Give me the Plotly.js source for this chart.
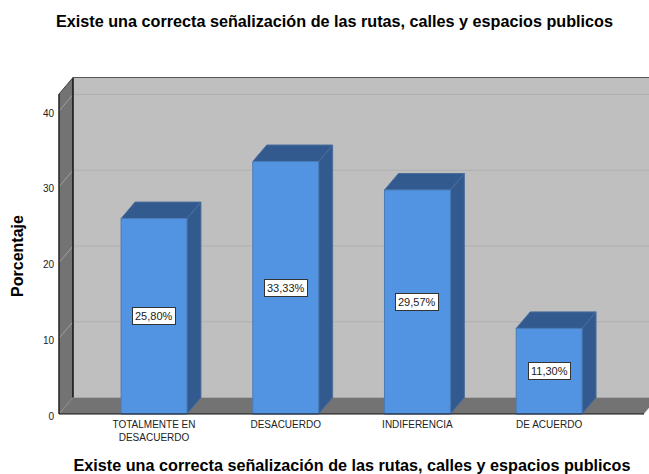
<!DOCTYPE html>
<html>
<head>
<meta charset="utf-8">
<script src="https://cdn.plot.ly/plotly-3.0.1.min.js"></script>
<style>html,body{margin:0;padding:0;background:#fff;overflow:hidden}</style>
</head>
<body>
<div id="chart" style="width:649px;height:474px"></div>
<script>
const categories = ["TOTALMENTE EN<br>DESACUERDO", "DESACUERDO", "INDIFERENCIA", "DE ACUERDO"];
const percentages = [25.80, 33.33, 29.57, 11.30];
const valueLabels = ["25,80%", "33,33%", "29,57%", "11,30%"];
const yTicks = [0, 10, 20, 30, 40];
const chartTitle = "Existe una correcta señalización de las rutas, calles y espacios publicos";
const yTitle = "Porcentaje";

const FONT = "Liberation Sans, Arial, sans-serif";
const BAR_W = 0.5, DX = 0.1063, DY = 2.18;
const XL = -0.7213, XR = 3.7213, YTOP = 42.24;

function poly(pts, fill, line, lw, layer) {
  return {type: "path", xref: "x", yref: "y", layer: layer || "below",
    path: "M" + pts.map(p => p[0] + "," + p[1]).join("L") + "Z",
    fillcolor: fill, line: {color: line, width: lw === undefined ? 1 : lw}};
}
function seg(x0, y0, x1, y1, color, w, layer) {
  return {type: "line", xref: "x", yref: "y", layer: layer || "below",
    x0, y0, x1, y1, line: {color, width: w}};
}

const shapes = [
  poly([[XL+DX,DY],[XR+DX,DY],[XR+DX,YTOP+DY],[XL+DX,YTOP+DY]], "#bfbfbf", "#bfbfbf", 0),
  poly([[XL,0],[XL+DX,DY],[XL+DX,YTOP+DY],[XL,YTOP]], "#737373", "#737373", 0),
  poly([[XL,0],[XR,0],[XR+DX,DY],[XL+DX,DY]], "#737373", "#737373", 0)
];
yTicks.slice(1).forEach(v => {
  shapes.push(seg(XL+DX, v+DY, XR+DX, v+DY, "#b0b0b0", 1));
  shapes.push(seg(XL, v, XL+DX, v+DY, "#a0a0a0", 1));
});
shapes.push(seg(XL, 0, XL+DX, DY, "#8c8c8c", 1));
shapes.push(seg(XR, 0, XR+DX, DY, "#e8e8e8", 1));
shapes.push(seg(XL+DX, DY, XL+DX, YTOP+DY, "#111111", 1.5));
shapes.push(seg(XL+DX, YTOP+DY, XR+DX, YTOP+DY, "#555555", 1));
shapes.push(seg(XL, YTOP, XL+DX, YTOP+DY, "#444444", 1));
shapes.push(seg(XL, 0, XL, YTOP, "#222222", 1.5));
percentages.forEach((v, i) => {
  const l = i - BAR_W/2, r = i + BAR_W/2;
  shapes.push(poly([[r,0],[r+DX,DY],[r+DX,v+DY],[r,v]], "#335a8f", "#4a6d9c", 1));
  shapes.push(poly([[l,v],[r,v],[r+DX,v+DY],[l+DX,v+DY]], "#335a8f", "#4a6d9c", 1));
});
shapes.push(seg(XL, 0, XR, 0, "#111111", 1.2, "above"));

const annotations = percentages.map((v, i) => ({
  x: i, y: v/2, xref: "x", yref: "y", text: valueLabels[i], showarrow: false,
  bgcolor: "#ffffff", bordercolor: "#333333", borderwidth: 1, borderpad: 2,
  font: {family: FONT, size: 11, color: "#222222"}
}));

const trace = {
  type: "bar", x: categories, y: percentages, width: BAR_W,
  marker: {color: "#5294e2", line: {color: "#4a7db8", width: 1}},
  hoverinfo: "skip"
};

const layout = {
  width: 649, height: 474, autosize: false,
  margin: {l: 55, r: 0, t: 76, b: 38, pad: 0},
  paper_bgcolor: "#ffffff", plot_bgcolor: "#ffffff",
  showlegend: false,
  title: {text: chartTitle, x: 334.5/649, xanchor: "center", y: 1-21/474, yanchor: "middle",
    font: {family: FONT, size: 16.2, color: "#000000", weight: "bold"}},
  xaxis: {
    type: "category", range: [-0.7517, 3.7585], anchor: "free", position: 19/360,
    showgrid: false, zeroline: false, showline: false, ticks: "",
    tickfont: {family: FONT, size: 10, color: "#222222"},
    title: {text: chartTitle, standoff: 17, font: {family: FONT, size: 16.2, color: "#000000", weight: "bold"}}
  },
  yaxis: {
    range: [-2.904, 44.62], tickvals: yTicks, ticktext: yTicks.map(String), ticklabelshift: 2,
    showgrid: false, zeroline: false, showline: false, ticks: "",
    tickfont: {family: FONT, size: 10, color: "#222222"},
    title: {text: yTitle, standoff: 15, font: {family: FONT, size: 16, color: "#000000", weight: "bold"}}
  },
  shapes, annotations
};

Plotly.newPlot("chart", [trace], layout, {displayModeBar: false, staticPlot: true});
</script>
</body>
</html>
